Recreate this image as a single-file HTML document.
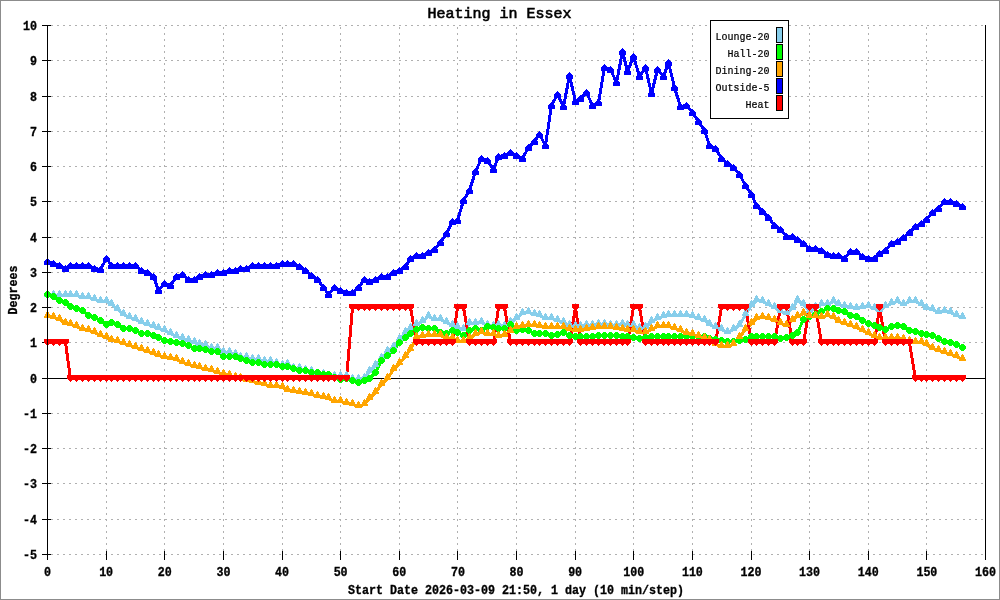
<!DOCTYPE html><html><head><meta charset="utf-8"><style>html,body{margin:0;padding:0;background:#fff;}body{width:1000px;height:600px;overflow:hidden;position:relative;}svg{position:absolute;left:0;top:0;display:block;will-change:transform;}text{font-family:"Liberation Mono",monospace;fill:#000;}.b{font-weight:bold;font-size:11.67px;stroke:#000;stroke-width:0.3px;}.t{font-weight:normal;font-size:15px;stroke:#000;stroke-width:0.6px;}.l{font-size:10px;stroke:#000;stroke-width:0.2px;}</style></head><body>
<svg width="1000" height="600" viewBox="0 0 1000 600">
<rect x="0" y="0" width="1000" height="600" fill="#fff"/>
<path d="M51 554.5H985M51 519.5H985M51 483.5H985M51 448.5H985M51 413.5H985M51 378.5H985M51 342.5H985M51 307.5H985M51 272.5H985M51 237.5H985M51 201.5H985M51 166.5H985M51 131.5H985M51 96.5H985M51 60.5H985M51 25.5H985" stroke="#b0b0b0" stroke-width="1" stroke-dasharray="2 4" fill="none" shape-rendering="crispEdges"/>
<path d="M106.5 554V25M164.5 554V25M223.5 554V25M282.5 554V25M340.5 554V25M399.5 554V25M457.5 554V25M516.5 554V25M575.5 554V25M633.5 554V25M692.5 554V25M751.5 554V25M809.5 554V25M868.5 554V25M926.5 554V25" stroke="#b0b0b0" stroke-width="1" stroke-dasharray="2 4" stroke-dashoffset="3" fill="none" shape-rendering="crispEdges"/>
<path d="M42 554.5H51M42 519.5H51M42 483.5H51M42 448.5H51M42 413.5H51M42 378.5H51M42 342.5H51M42 307.5H51M42 272.5H51M42 237.5H51M42 201.5H51M42 166.5H51M42 131.5H51M42 96.5H51M42 60.5H51M42 25.5H51M47.5 551V560M106.5 551V560M164.5 551V560M223.5 551V560M282.5 551V560M340.5 551V560M399.5 551V560M457.5 551V560M516.5 551V560M575.5 551V560M633.5 551V560M692.5 551V560M751.5 551V560M809.5 551V560M868.5 551V560M926.5 551V560M985.5 551V560" stroke="#000" stroke-width="1" fill="none" shape-rendering="crispEdges"/>
<path d="M47 378.5H985" stroke="#000" stroke-width="1" shape-rendering="crispEdges"/>
<path d="M47.5 295.5 L53.5 295.5 L59.5 295.5 L65.5 295.5 L70.5 295.5 L76.5 295.5 L82.5 297.5 L88.5 297.5 L94.5 299.5 L100.5 301.5 L106.5 301.5 L111.5 304.5 L117.5 309.5 L123.5 314.5 L129.5 317.5 L135.5 319.5 L141.5 322.5 L147.5 324.5 L153.5 326.5 L158.5 328.5 L164.5 330.5 L170.5 333.5 L176.5 336.5 L182.5 338.5 L188.5 340.5 L194.5 342.5 L199.5 344.5 L205.5 345.5 L211.5 348.5 L217.5 348.5 L223.5 352.5 L229.5 352.5 L235.5 354.5 L240.5 357.5 L246.5 357.5 L252.5 359.5 L258.5 359.5 L264.5 361.5 L270.5 361.5 L276.5 363.5 L282.5 365.5 L287.5 364.5 L293.5 368.5 L299.5 368.5 L305.5 370.5 L311.5 371.5 L317.5 374.5 L323.5 374.5 L328.5 377.5 L334.5 376.5 L340.5 376.5 L346.5 376.5 L352.5 379.5 L358.5 379.5 L364.5 378.5 L369.5 371.5 L375.5 365.5 L381.5 358.5 L387.5 351.5 L393.5 347.5 L399.5 339.5 L405.5 332.5 L410.5 328.5 L416.5 324.5 L422.5 321.5 L428.5 316.5 L434.5 319.5 L440.5 319.5 L446.5 322.5 L452.5 325.5 L457.5 327.5 L463.5 329.5 L469.5 323.5 L475.5 323.5 L481.5 322.5 L487.5 325.5 L493.5 326.5 L498.5 325.5 L504.5 326.5 L510.5 322.5 L516.5 318.5 L522.5 313.5 L528.5 312.5 L534.5 314.5 L539.5 315.5 L545.5 318.5 L551.5 318.5 L557.5 320.5 L563.5 322.5 L569.5 325.5 L575.5 326.5 L580.5 326.5 L586.5 325.5 L592.5 325.5 L598.5 324.5 L604.5 324.5 L610.5 325.5 L616.5 325.5 L622.5 324.5 L627.5 325.5 L633.5 325.5 L639.5 328.5 L645.5 327.5 L651.5 321.5 L657.5 318.5 L663.5 316.5 L668.5 315.5 L674.5 315.5 L680.5 315.5 L686.5 315.5 L692.5 316.5 L698.5 318.5 L704.5 320.5 L709.5 324.5 L715.5 327.5 L721.5 329.5 L727.5 332.5 L733.5 329.5 L739.5 325.5 L745.5 314.5 L751.5 305.5 L756.5 300.5 L762.5 301.5 L768.5 304.5 L774.5 307.5 L780.5 311.5 L786.5 313.5 L792.5 308.5 L797.5 300.5 L803.5 304.5 L809.5 311.5 L815.5 307.5 L821.5 304.5 L827.5 304.5 L833.5 301.5 L838.5 304.5 L844.5 306.5 L850.5 307.5 L856.5 308.5 L862.5 307.5 L868.5 306.5 L874.5 308.5 L879.5 310.5 L885.5 306.5 L891.5 303.5 L897.5 301.5 L903.5 304.5 L909.5 301.5 L915.5 301.5 L921.5 304.5 L926.5 308.5 L932.5 309.5 L938.5 312.5 L944.5 311.5 L950.5 312.5 L956.5 315.5 L962.5 317.5" stroke="#87ceeb" stroke-width="3" fill="none" stroke-linejoin="round" shape-rendering="crispEdges"/>
<path d="M47.5 294.5 L53.5 296.5 L59.5 300.5 L65.5 302.5 L70.5 306.5 L76.5 308.5 L82.5 310.5 L88.5 315.5 L94.5 317.5 L100.5 320.5 L106.5 324.5 L111.5 322.5 L117.5 324.5 L123.5 328.5 L129.5 328.5 L135.5 330.5 L141.5 333.5 L147.5 333.5 L153.5 335.5 L158.5 337.5 L164.5 340.5 L170.5 341.5 L176.5 342.5 L182.5 343.5 L188.5 345.5 L194.5 348.5 L199.5 348.5 L205.5 349.5 L211.5 351.5 L217.5 351.5 L223.5 356.5 L229.5 356.5 L235.5 356.5 L240.5 358.5 L246.5 360.5 L252.5 362.5 L258.5 362.5 L264.5 364.5 L270.5 364.5 L276.5 364.5 L282.5 366.5 L287.5 366.5 L293.5 368.5 L299.5 370.5 L305.5 370.5 L311.5 372.5 L317.5 372.5 L323.5 374.5 L328.5 374.5 L334.5 377.5 L340.5 379.5 L346.5 378.5 L352.5 380.5 L358.5 382.5 L364.5 380.5 L369.5 378.5 L375.5 372.5 L381.5 360.5 L387.5 355.5 L393.5 350.5 L399.5 342.5 L405.5 337.5 L410.5 333.5 L416.5 329.5 L422.5 327.5 L428.5 328.5 L434.5 328.5 L440.5 332.5 L446.5 333.5 L452.5 330.5 L457.5 332.5 L463.5 335.5 L469.5 330.5 L475.5 328.5 L481.5 330.5 L487.5 326.5 L493.5 327.5 L498.5 328.5 L504.5 328.5 L510.5 324.5 L516.5 330.5 L522.5 329.5 L528.5 330.5 L534.5 333.5 L539.5 333.5 L545.5 333.5 L551.5 335.5 L557.5 334.5 L563.5 332.5 L569.5 335.5 L575.5 336.5 L580.5 336.5 L586.5 336.5 L592.5 336.5 L598.5 335.5 L604.5 335.5 L610.5 335.5 L616.5 335.5 L622.5 336.5 L627.5 336.5 L633.5 337.5 L639.5 338.5 L645.5 337.5 L651.5 336.5 L657.5 336.5 L663.5 336.5 L668.5 336.5 L674.5 336.5 L680.5 336.5 L686.5 336.5 L692.5 336.5 L698.5 336.5 L704.5 336.5 L709.5 338.5 L715.5 339.5 L721.5 340.5 L727.5 341.5 L733.5 341.5 L739.5 340.5 L745.5 339.5 L751.5 336.5 L756.5 336.5 L762.5 336.5 L768.5 336.5 L774.5 336.5 L780.5 338.5 L786.5 337.5 L792.5 335.5 L797.5 332.5 L803.5 319.5 L809.5 316.5 L815.5 314.5 L821.5 311.5 L827.5 308.5 L833.5 308.5 L838.5 310.5 L844.5 311.5 L850.5 315.5 L856.5 316.5 L862.5 320.5 L868.5 323.5 L874.5 325.5 L879.5 327.5 L885.5 329.5 L891.5 326.5 L897.5 325.5 L903.5 326.5 L909.5 330.5 L915.5 331.5 L921.5 333.5 L926.5 334.5 L932.5 335.5 L938.5 338.5 L944.5 341.5 L950.5 342.5 L956.5 344.5 L962.5 347.5" stroke="#00ff00" stroke-width="3" fill="none" stroke-linejoin="round" shape-rendering="crispEdges"/>
<path d="M47.5 316.5 L53.5 317.5 L59.5 319.5 L65.5 323.5 L70.5 324.5 L76.5 326.5 L82.5 329.5 L88.5 330.5 L94.5 332.5 L100.5 335.5 L106.5 337.5 L111.5 340.5 L117.5 341.5 L123.5 343.5 L129.5 345.5 L135.5 347.5 L141.5 349.5 L147.5 351.5 L153.5 353.5 L158.5 355.5 L164.5 357.5 L170.5 358.5 L176.5 359.5 L182.5 362.5 L188.5 364.5 L194.5 366.5 L199.5 367.5 L205.5 369.5 L211.5 370.5 L217.5 372.5 L223.5 374.5 L229.5 375.5 L235.5 377.5 L240.5 378.5 L246.5 380.5 L252.5 381.5 L258.5 383.5 L264.5 384.5 L270.5 386.5 L276.5 386.5 L282.5 387.5 L287.5 390.5 L293.5 391.5 L299.5 392.5 L305.5 393.5 L311.5 394.5 L317.5 396.5 L323.5 397.5 L328.5 398.5 L334.5 401.5 L340.5 401.5 L346.5 403.5 L352.5 404.5 L358.5 406.5 L364.5 404.5 L369.5 398.5 L375.5 392.5 L381.5 384.5 L387.5 378.5 L393.5 369.5 L399.5 363.5 L405.5 356.5 L410.5 349.5 L416.5 337.5 L422.5 336.5 L428.5 335.5 L434.5 335.5 L440.5 335.5 L446.5 338.5 L452.5 338.5 L457.5 341.5 L463.5 341.5 L469.5 338.5 L475.5 334.5 L481.5 332.5 L487.5 334.5 L493.5 334.5 L498.5 336.5 L504.5 335.5 L510.5 331.5 L516.5 327.5 L522.5 326.5 L528.5 325.5 L534.5 325.5 L539.5 326.5 L545.5 327.5 L551.5 327.5 L557.5 327.5 L563.5 327.5 L569.5 329.5 L575.5 330.5 L580.5 330.5 L586.5 329.5 L592.5 328.5 L598.5 327.5 L604.5 327.5 L610.5 327.5 L616.5 328.5 L622.5 329.5 L627.5 330.5 L633.5 330.5 L639.5 332.5 L645.5 332.5 L651.5 329.5 L657.5 326.5 L663.5 326.5 L668.5 326.5 L674.5 328.5 L680.5 330.5 L686.5 333.5 L692.5 334.5 L698.5 336.5 L704.5 338.5 L709.5 340.5 L715.5 344.5 L721.5 346.5 L727.5 346.5 L733.5 344.5 L739.5 337.5 L745.5 329.5 L751.5 323.5 L756.5 318.5 L762.5 317.5 L768.5 318.5 L774.5 320.5 L780.5 323.5 L786.5 325.5 L792.5 320.5 L797.5 316.5 L803.5 313.5 L809.5 316.5 L815.5 316.5 L821.5 317.5 L827.5 315.5 L833.5 317.5 L838.5 321.5 L844.5 323.5 L850.5 325.5 L856.5 327.5 L862.5 330.5 L868.5 333.5 L874.5 336.5 L879.5 338.5 L885.5 338.5 L891.5 338.5 L897.5 338.5 L903.5 339.5 L909.5 341.5 L915.5 342.5 L921.5 342.5 L926.5 344.5 L932.5 348.5 L938.5 350.5 L944.5 352.5 L950.5 354.5 L956.5 356.5 L962.5 359.5" stroke="#ffa500" stroke-width="3" fill="none" stroke-linejoin="round" shape-rendering="crispEdges"/>
<path d="M47.5 261.5 L53.5 263.5 L59.5 265.5 L65.5 268.5 L70.5 265.5 L76.5 265.5 L82.5 265.5 L88.5 265.5 L94.5 268.5 L100.5 269.5 L106.5 258.5 L111.5 265.5 L117.5 265.5 L123.5 265.5 L129.5 265.5 L135.5 265.5 L141.5 270.5 L147.5 272.5 L153.5 276.5 L158.5 290.5 L164.5 283.5 L170.5 285.5 L176.5 276.5 L182.5 274.5 L188.5 279.5 L194.5 279.5 L199.5 276.5 L205.5 274.5 L211.5 274.5 L217.5 272.5 L223.5 272.5 L229.5 270.5 L235.5 270.5 L240.5 268.5 L246.5 268.5 L252.5 265.5 L258.5 265.5 L264.5 265.5 L270.5 265.5 L276.5 265.5 L282.5 263.5 L287.5 263.5 L293.5 263.5 L299.5 266.5 L305.5 270.5 L311.5 275.5 L317.5 279.5 L323.5 287.5 L328.5 294.5 L334.5 287.5 L340.5 290.5 L346.5 292.5 L352.5 292.5 L358.5 287.5 L364.5 279.5 L369.5 281.5 L375.5 279.5 L381.5 276.5 L387.5 276.5 L393.5 272.5 L399.5 270.5 L405.5 266.5 L410.5 258.5 L416.5 255.5 L422.5 255.5 L428.5 252.5 L434.5 249.5 L440.5 242.5 L446.5 233.5 L452.5 221.5 L457.5 220.5 L463.5 200.5 L469.5 190.5 L475.5 171.5 L481.5 158.5 L487.5 160.5 L493.5 169.5 L498.5 156.5 L504.5 155.5 L510.5 152.5 L516.5 155.5 L522.5 158.5 L528.5 147.5 L534.5 141.5 L539.5 134.5 L545.5 145.5 L551.5 105.5 L557.5 94.5 L563.5 106.5 L569.5 75.5 L575.5 101.5 L580.5 98.5 L586.5 92.5 L592.5 105.5 L598.5 102.5 L604.5 67.5 L610.5 69.5 L616.5 82.5 L622.5 51.5 L627.5 71.5 L633.5 56.5 L639.5 76.5 L645.5 67.5 L651.5 93.5 L657.5 69.5 L663.5 76.5 L668.5 62.5 L674.5 87.5 L680.5 106.5 L686.5 105.5 L692.5 112.5 L698.5 121.5 L704.5 130.5 L709.5 145.5 L715.5 148.5 L721.5 158.5 L727.5 163.5 L733.5 167.5 L739.5 174.5 L745.5 185.5 L751.5 194.5 L756.5 205.5 L762.5 211.5 L768.5 217.5 L774.5 225.5 L780.5 229.5 L786.5 236.5 L792.5 236.5 L797.5 239.5 L803.5 243.5 L809.5 248.5 L815.5 248.5 L821.5 250.5 L827.5 254.5 L833.5 255.5 L838.5 255.5 L844.5 258.5 L850.5 251.5 L856.5 251.5 L862.5 256.5 L868.5 258.5 L874.5 258.5 L879.5 253.5 L885.5 250.5 L891.5 243.5 L897.5 241.5 L903.5 237.5 L909.5 232.5 L915.5 226.5 L921.5 223.5 L926.5 219.5 L932.5 212.5 L938.5 208.5 L944.5 201.5 L950.5 201.5 L956.5 203.5 L962.5 206.5" stroke="#0000ff" stroke-width="3" fill="none" stroke-linejoin="round" shape-rendering="crispEdges"/>
<path d="M47.5 342.5 L53.5 342.5 L59.5 342.5 L65.5 342.5 L70.5 378.5 L76.5 378.5 L82.5 378.5 L88.5 378.5 L94.5 378.5 L100.5 378.5 L106.5 378.5 L111.5 378.5 L117.5 378.5 L123.5 378.5 L129.5 378.5 L135.5 378.5 L141.5 378.5 L147.5 378.5 L153.5 378.5 L158.5 378.5 L164.5 378.5 L170.5 378.5 L176.5 378.5 L182.5 378.5 L188.5 378.5 L194.5 378.5 L199.5 378.5 L205.5 378.5 L211.5 378.5 L217.5 378.5 L223.5 378.5 L229.5 378.5 L235.5 378.5 L240.5 378.5 L246.5 378.5 L252.5 378.5 L258.5 378.5 L264.5 378.5 L270.5 378.5 L276.5 378.5 L282.5 378.5 L287.5 378.5 L293.5 378.5 L299.5 378.5 L305.5 378.5 L311.5 378.5 L317.5 378.5 L323.5 378.5 L328.5 378.5 L334.5 378.5 L340.5 378.5 L346.5 378.5 L352.5 307.5 L358.5 307.5 L364.5 307.5 L369.5 307.5 L375.5 307.5 L381.5 307.5 L387.5 307.5 L393.5 307.5 L399.5 307.5 L405.5 307.5 L410.5 307.5 L416.5 342.5 L422.5 342.5 L428.5 342.5 L434.5 342.5 L440.5 342.5 L446.5 342.5 L452.5 342.5 L457.5 307.5 L463.5 307.5 L469.5 342.5 L475.5 342.5 L481.5 342.5 L487.5 342.5 L493.5 342.5 L498.5 307.5 L504.5 307.5 L510.5 342.5 L516.5 342.5 L522.5 342.5 L528.5 342.5 L534.5 342.5 L539.5 342.5 L545.5 342.5 L551.5 342.5 L557.5 342.5 L563.5 342.5 L569.5 342.5 L575.5 307.5 L580.5 342.5 L586.5 342.5 L592.5 342.5 L598.5 342.5 L604.5 342.5 L610.5 342.5 L616.5 342.5 L622.5 342.5 L627.5 342.5 L633.5 307.5 L639.5 307.5 L645.5 342.5 L651.5 342.5 L657.5 342.5 L663.5 342.5 L668.5 342.5 L674.5 342.5 L680.5 342.5 L686.5 342.5 L692.5 342.5 L698.5 342.5 L704.5 342.5 L709.5 342.5 L715.5 342.5 L721.5 307.5 L727.5 307.5 L733.5 307.5 L739.5 307.5 L745.5 307.5 L751.5 342.5 L756.5 342.5 L762.5 342.5 L768.5 342.5 L774.5 342.5 L780.5 307.5 L786.5 307.5 L792.5 342.5 L797.5 342.5 L803.5 342.5 L809.5 307.5 L815.5 307.5 L821.5 342.5 L827.5 342.5 L833.5 342.5 L838.5 342.5 L844.5 342.5 L850.5 342.5 L856.5 342.5 L862.5 342.5 L868.5 342.5 L874.5 342.5 L879.5 307.5 L885.5 342.5 L891.5 342.5 L897.5 342.5 L903.5 342.5 L909.5 342.5 L915.5 378.5 L921.5 378.5 L926.5 378.5 L932.5 378.5 L938.5 378.5 L944.5 378.5 L950.5 378.5 L956.5 378.5 L962.5 378.5" stroke="#ff0000" stroke-width="3" fill="none" stroke-linejoin="round" shape-rendering="crispEdges"/>
<path d="M47.5 289.5L51 295.5V297H44V295.5ZM53.5 289.5L57 295.5V297H50V295.5ZM59.5 289.5L63 295.5V297H56V295.5ZM65.5 289.5L69 295.5V297H62V295.5ZM70.5 289.5L74 295.5V297H67V295.5ZM76.5 289.5L80 295.5V297H73V295.5ZM82.5 291.5L86 297.5V299H79V297.5ZM88.5 291.5L92 297.5V299H85V297.5ZM94.5 293.5L98 299.5V301H91V299.5ZM100.5 295.5L104 301.5V303H97V301.5ZM106.5 295.5L110 301.5V303H103V301.5ZM111.5 298.5L115 304.5V306H108V304.5ZM117.5 303.5L121 309.5V311H114V309.5ZM123.5 308.5L127 314.5V316H120V314.5ZM129.5 311.5L133 317.5V319H126V317.5ZM135.5 313.5L139 319.5V321H132V319.5ZM141.5 316.5L145 322.5V324H138V322.5ZM147.5 318.5L151 324.5V326H144V324.5ZM153.5 320.5L157 326.5V328H150V326.5ZM158.5 322.5L162 328.5V330H155V328.5ZM164.5 324.5L168 330.5V332H161V330.5ZM170.5 327.5L174 333.5V335H167V333.5ZM176.5 330.5L180 336.5V338H173V336.5ZM182.5 332.5L186 338.5V340H179V338.5ZM188.5 334.5L192 340.5V342H185V340.5ZM194.5 336.5L198 342.5V344H191V342.5ZM199.5 338.5L203 344.5V346H196V344.5ZM205.5 339.5L209 345.5V347H202V345.5ZM211.5 342.5L215 348.5V350H208V348.5ZM217.5 342.5L221 348.5V350H214V348.5ZM223.5 346.5L227 352.5V354H220V352.5ZM229.5 346.5L233 352.5V354H226V352.5ZM235.5 348.5L239 354.5V356H232V354.5ZM240.5 351.5L244 357.5V359H237V357.5ZM246.5 351.5L250 357.5V359H243V357.5ZM252.5 353.5L256 359.5V361H249V359.5ZM258.5 353.5L262 359.5V361H255V359.5ZM264.5 355.5L268 361.5V363H261V361.5ZM270.5 355.5L274 361.5V363H267V361.5ZM276.5 357.5L280 363.5V365H273V363.5ZM282.5 359.5L286 365.5V367H279V365.5ZM287.5 358.5L291 364.5V366H284V364.5ZM293.5 362.5L297 368.5V370H290V368.5ZM299.5 362.5L303 368.5V370H296V368.5ZM305.5 364.5L309 370.5V372H302V370.5ZM311.5 365.5L315 371.5V373H308V371.5ZM317.5 368.5L321 374.5V376H314V374.5ZM323.5 368.5L327 374.5V376H320V374.5ZM328.5 371.5L332 377.5V379H325V377.5ZM334.5 370.5L338 376.5V378H331V376.5ZM340.5 370.5L344 376.5V378H337V376.5ZM346.5 370.5L350 376.5V378H343V376.5ZM352.5 373.5L356 379.5V381H349V379.5ZM358.5 373.5L362 379.5V381H355V379.5ZM364.5 372.5L368 378.5V380H361V378.5ZM369.5 365.5L373 371.5V373H366V371.5ZM375.5 359.5L379 365.5V367H372V365.5ZM381.5 352.5L385 358.5V360H378V358.5ZM387.5 345.5L391 351.5V353H384V351.5ZM393.5 341.5L397 347.5V349H390V347.5ZM399.5 333.5L403 339.5V341H396V339.5ZM405.5 326.5L409 332.5V334H402V332.5ZM410.5 322.5L414 328.5V330H407V328.5ZM416.5 318.5L420 324.5V326H413V324.5ZM422.5 315.5L426 321.5V323H419V321.5ZM428.5 310.5L432 316.5V318H425V316.5ZM434.5 313.5L438 319.5V321H431V319.5ZM440.5 313.5L444 319.5V321H437V319.5ZM446.5 316.5L450 322.5V324H443V322.5ZM452.5 319.5L456 325.5V327H449V325.5ZM457.5 321.5L461 327.5V329H454V327.5ZM463.5 323.5L467 329.5V331H460V329.5ZM469.5 317.5L473 323.5V325H466V323.5ZM475.5 317.5L479 323.5V325H472V323.5ZM481.5 316.5L485 322.5V324H478V322.5ZM487.5 319.5L491 325.5V327H484V325.5ZM493.5 320.5L497 326.5V328H490V326.5ZM498.5 319.5L502 325.5V327H495V325.5ZM504.5 320.5L508 326.5V328H501V326.5ZM510.5 316.5L514 322.5V324H507V322.5ZM516.5 312.5L520 318.5V320H513V318.5ZM522.5 307.5L526 313.5V315H519V313.5ZM528.5 306.5L532 312.5V314H525V312.5ZM534.5 308.5L538 314.5V316H531V314.5ZM539.5 309.5L543 315.5V317H536V315.5ZM545.5 312.5L549 318.5V320H542V318.5ZM551.5 312.5L555 318.5V320H548V318.5ZM557.5 314.5L561 320.5V322H554V320.5ZM563.5 316.5L567 322.5V324H560V322.5ZM569.5 319.5L573 325.5V327H566V325.5ZM575.5 320.5L579 326.5V328H572V326.5ZM580.5 320.5L584 326.5V328H577V326.5ZM586.5 319.5L590 325.5V327H583V325.5ZM592.5 319.5L596 325.5V327H589V325.5ZM598.5 318.5L602 324.5V326H595V324.5ZM604.5 318.5L608 324.5V326H601V324.5ZM610.5 319.5L614 325.5V327H607V325.5ZM616.5 319.5L620 325.5V327H613V325.5ZM622.5 318.5L626 324.5V326H619V324.5ZM627.5 319.5L631 325.5V327H624V325.5ZM633.5 319.5L637 325.5V327H630V325.5ZM639.5 322.5L643 328.5V330H636V328.5ZM645.5 321.5L649 327.5V329H642V327.5ZM651.5 315.5L655 321.5V323H648V321.5ZM657.5 312.5L661 318.5V320H654V318.5ZM663.5 310.5L667 316.5V318H660V316.5ZM668.5 309.5L672 315.5V317H665V315.5ZM674.5 309.5L678 315.5V317H671V315.5ZM680.5 309.5L684 315.5V317H677V315.5ZM686.5 309.5L690 315.5V317H683V315.5ZM692.5 310.5L696 316.5V318H689V316.5ZM698.5 312.5L702 318.5V320H695V318.5ZM704.5 314.5L708 320.5V322H701V320.5ZM709.5 318.5L713 324.5V326H706V324.5ZM715.5 321.5L719 327.5V329H712V327.5ZM721.5 323.5L725 329.5V331H718V329.5ZM727.5 326.5L731 332.5V334H724V332.5ZM733.5 323.5L737 329.5V331H730V329.5ZM739.5 319.5L743 325.5V327H736V325.5ZM745.5 308.5L749 314.5V316H742V314.5ZM751.5 299.5L755 305.5V307H748V305.5ZM756.5 294.5L760 300.5V302H753V300.5ZM762.5 295.5L766 301.5V303H759V301.5ZM768.5 298.5L772 304.5V306H765V304.5ZM774.5 301.5L778 307.5V309H771V307.5ZM780.5 305.5L784 311.5V313H777V311.5ZM786.5 307.5L790 313.5V315H783V313.5ZM792.5 302.5L796 308.5V310H789V308.5ZM797.5 294.5L801 300.5V302H794V300.5ZM803.5 298.5L807 304.5V306H800V304.5ZM809.5 305.5L813 311.5V313H806V311.5ZM815.5 301.5L819 307.5V309H812V307.5ZM821.5 298.5L825 304.5V306H818V304.5ZM827.5 298.5L831 304.5V306H824V304.5ZM833.5 295.5L837 301.5V303H830V301.5ZM838.5 298.5L842 304.5V306H835V304.5ZM844.5 300.5L848 306.5V308H841V306.5ZM850.5 301.5L854 307.5V309H847V307.5ZM856.5 302.5L860 308.5V310H853V308.5ZM862.5 301.5L866 307.5V309H859V307.5ZM868.5 300.5L872 306.5V308H865V306.5ZM874.5 302.5L878 308.5V310H871V308.5ZM879.5 304.5L883 310.5V312H876V310.5ZM885.5 300.5L889 306.5V308H882V306.5ZM891.5 297.5L895 303.5V305H888V303.5ZM897.5 295.5L901 301.5V303H894V301.5ZM903.5 298.5L907 304.5V306H900V304.5ZM909.5 295.5L913 301.5V303H906V301.5ZM915.5 295.5L919 301.5V303H912V301.5ZM921.5 298.5L925 304.5V306H918V304.5ZM926.5 302.5L930 308.5V310H923V308.5ZM932.5 303.5L936 309.5V311H929V309.5ZM938.5 306.5L942 312.5V314H935V312.5ZM944.5 305.5L948 311.5V313H941V311.5ZM950.5 306.5L954 312.5V314H947V312.5ZM956.5 309.5L960 315.5V317H953V315.5ZM962.5 311.5L966 317.5V319H959V317.5Z" fill="#87ceeb" shape-rendering="crispEdges"/>
<path d="M46 291h3v1h1v1h1v3h-1v1h-1v1h-3v-1h-1v-1h-1v-3h1v-1h1zM52 293h3v1h1v1h1v3h-1v1h-1v1h-3v-1h-1v-1h-1v-3h1v-1h1zM58 297h3v1h1v1h1v3h-1v1h-1v1h-3v-1h-1v-1h-1v-3h1v-1h1zM64 299h3v1h1v1h1v3h-1v1h-1v1h-3v-1h-1v-1h-1v-3h1v-1h1zM69 303h3v1h1v1h1v3h-1v1h-1v1h-3v-1h-1v-1h-1v-3h1v-1h1zM75 305h3v1h1v1h1v3h-1v1h-1v1h-3v-1h-1v-1h-1v-3h1v-1h1zM81 307h3v1h1v1h1v3h-1v1h-1v1h-3v-1h-1v-1h-1v-3h1v-1h1zM87 312h3v1h1v1h1v3h-1v1h-1v1h-3v-1h-1v-1h-1v-3h1v-1h1zM93 314h3v1h1v1h1v3h-1v1h-1v1h-3v-1h-1v-1h-1v-3h1v-1h1zM99 317h3v1h1v1h1v3h-1v1h-1v1h-3v-1h-1v-1h-1v-3h1v-1h1zM105 321h3v1h1v1h1v3h-1v1h-1v1h-3v-1h-1v-1h-1v-3h1v-1h1zM110 319h3v1h1v1h1v3h-1v1h-1v1h-3v-1h-1v-1h-1v-3h1v-1h1zM116 321h3v1h1v1h1v3h-1v1h-1v1h-3v-1h-1v-1h-1v-3h1v-1h1zM122 325h3v1h1v1h1v3h-1v1h-1v1h-3v-1h-1v-1h-1v-3h1v-1h1zM128 325h3v1h1v1h1v3h-1v1h-1v1h-3v-1h-1v-1h-1v-3h1v-1h1zM134 327h3v1h1v1h1v3h-1v1h-1v1h-3v-1h-1v-1h-1v-3h1v-1h1zM140 330h3v1h1v1h1v3h-1v1h-1v1h-3v-1h-1v-1h-1v-3h1v-1h1zM146 330h3v1h1v1h1v3h-1v1h-1v1h-3v-1h-1v-1h-1v-3h1v-1h1zM152 332h3v1h1v1h1v3h-1v1h-1v1h-3v-1h-1v-1h-1v-3h1v-1h1zM157 334h3v1h1v1h1v3h-1v1h-1v1h-3v-1h-1v-1h-1v-3h1v-1h1zM163 337h3v1h1v1h1v3h-1v1h-1v1h-3v-1h-1v-1h-1v-3h1v-1h1zM169 338h3v1h1v1h1v3h-1v1h-1v1h-3v-1h-1v-1h-1v-3h1v-1h1zM175 339h3v1h1v1h1v3h-1v1h-1v1h-3v-1h-1v-1h-1v-3h1v-1h1zM181 340h3v1h1v1h1v3h-1v1h-1v1h-3v-1h-1v-1h-1v-3h1v-1h1zM187 342h3v1h1v1h1v3h-1v1h-1v1h-3v-1h-1v-1h-1v-3h1v-1h1zM193 345h3v1h1v1h1v3h-1v1h-1v1h-3v-1h-1v-1h-1v-3h1v-1h1zM198 345h3v1h1v1h1v3h-1v1h-1v1h-3v-1h-1v-1h-1v-3h1v-1h1zM204 346h3v1h1v1h1v3h-1v1h-1v1h-3v-1h-1v-1h-1v-3h1v-1h1zM210 348h3v1h1v1h1v3h-1v1h-1v1h-3v-1h-1v-1h-1v-3h1v-1h1zM216 348h3v1h1v1h1v3h-1v1h-1v1h-3v-1h-1v-1h-1v-3h1v-1h1zM222 353h3v1h1v1h1v3h-1v1h-1v1h-3v-1h-1v-1h-1v-3h1v-1h1zM228 353h3v1h1v1h1v3h-1v1h-1v1h-3v-1h-1v-1h-1v-3h1v-1h1zM234 353h3v1h1v1h1v3h-1v1h-1v1h-3v-1h-1v-1h-1v-3h1v-1h1zM239 355h3v1h1v1h1v3h-1v1h-1v1h-3v-1h-1v-1h-1v-3h1v-1h1zM245 357h3v1h1v1h1v3h-1v1h-1v1h-3v-1h-1v-1h-1v-3h1v-1h1zM251 359h3v1h1v1h1v3h-1v1h-1v1h-3v-1h-1v-1h-1v-3h1v-1h1zM257 359h3v1h1v1h1v3h-1v1h-1v1h-3v-1h-1v-1h-1v-3h1v-1h1zM263 361h3v1h1v1h1v3h-1v1h-1v1h-3v-1h-1v-1h-1v-3h1v-1h1zM269 361h3v1h1v1h1v3h-1v1h-1v1h-3v-1h-1v-1h-1v-3h1v-1h1zM275 361h3v1h1v1h1v3h-1v1h-1v1h-3v-1h-1v-1h-1v-3h1v-1h1zM281 363h3v1h1v1h1v3h-1v1h-1v1h-3v-1h-1v-1h-1v-3h1v-1h1zM286 363h3v1h1v1h1v3h-1v1h-1v1h-3v-1h-1v-1h-1v-3h1v-1h1zM292 365h3v1h1v1h1v3h-1v1h-1v1h-3v-1h-1v-1h-1v-3h1v-1h1zM298 367h3v1h1v1h1v3h-1v1h-1v1h-3v-1h-1v-1h-1v-3h1v-1h1zM304 367h3v1h1v1h1v3h-1v1h-1v1h-3v-1h-1v-1h-1v-3h1v-1h1zM310 369h3v1h1v1h1v3h-1v1h-1v1h-3v-1h-1v-1h-1v-3h1v-1h1zM316 369h3v1h1v1h1v3h-1v1h-1v1h-3v-1h-1v-1h-1v-3h1v-1h1zM322 371h3v1h1v1h1v3h-1v1h-1v1h-3v-1h-1v-1h-1v-3h1v-1h1zM327 371h3v1h1v1h1v3h-1v1h-1v1h-3v-1h-1v-1h-1v-3h1v-1h1zM333 374h3v1h1v1h1v3h-1v1h-1v1h-3v-1h-1v-1h-1v-3h1v-1h1zM339 376h3v1h1v1h1v3h-1v1h-1v1h-3v-1h-1v-1h-1v-3h1v-1h1zM345 375h3v1h1v1h1v3h-1v1h-1v1h-3v-1h-1v-1h-1v-3h1v-1h1zM351 377h3v1h1v1h1v3h-1v1h-1v1h-3v-1h-1v-1h-1v-3h1v-1h1zM357 379h3v1h1v1h1v3h-1v1h-1v1h-3v-1h-1v-1h-1v-3h1v-1h1zM363 377h3v1h1v1h1v3h-1v1h-1v1h-3v-1h-1v-1h-1v-3h1v-1h1zM368 375h3v1h1v1h1v3h-1v1h-1v1h-3v-1h-1v-1h-1v-3h1v-1h1zM374 369h3v1h1v1h1v3h-1v1h-1v1h-3v-1h-1v-1h-1v-3h1v-1h1zM380 357h3v1h1v1h1v3h-1v1h-1v1h-3v-1h-1v-1h-1v-3h1v-1h1zM386 352h3v1h1v1h1v3h-1v1h-1v1h-3v-1h-1v-1h-1v-3h1v-1h1zM392 347h3v1h1v1h1v3h-1v1h-1v1h-3v-1h-1v-1h-1v-3h1v-1h1zM398 339h3v1h1v1h1v3h-1v1h-1v1h-3v-1h-1v-1h-1v-3h1v-1h1zM404 334h3v1h1v1h1v3h-1v1h-1v1h-3v-1h-1v-1h-1v-3h1v-1h1zM409 330h3v1h1v1h1v3h-1v1h-1v1h-3v-1h-1v-1h-1v-3h1v-1h1zM415 326h3v1h1v1h1v3h-1v1h-1v1h-3v-1h-1v-1h-1v-3h1v-1h1zM421 324h3v1h1v1h1v3h-1v1h-1v1h-3v-1h-1v-1h-1v-3h1v-1h1zM427 325h3v1h1v1h1v3h-1v1h-1v1h-3v-1h-1v-1h-1v-3h1v-1h1zM433 325h3v1h1v1h1v3h-1v1h-1v1h-3v-1h-1v-1h-1v-3h1v-1h1zM439 329h3v1h1v1h1v3h-1v1h-1v1h-3v-1h-1v-1h-1v-3h1v-1h1zM445 330h3v1h1v1h1v3h-1v1h-1v1h-3v-1h-1v-1h-1v-3h1v-1h1zM451 327h3v1h1v1h1v3h-1v1h-1v1h-3v-1h-1v-1h-1v-3h1v-1h1zM456 329h3v1h1v1h1v3h-1v1h-1v1h-3v-1h-1v-1h-1v-3h1v-1h1zM462 332h3v1h1v1h1v3h-1v1h-1v1h-3v-1h-1v-1h-1v-3h1v-1h1zM468 327h3v1h1v1h1v3h-1v1h-1v1h-3v-1h-1v-1h-1v-3h1v-1h1zM474 325h3v1h1v1h1v3h-1v1h-1v1h-3v-1h-1v-1h-1v-3h1v-1h1zM480 327h3v1h1v1h1v3h-1v1h-1v1h-3v-1h-1v-1h-1v-3h1v-1h1zM486 323h3v1h1v1h1v3h-1v1h-1v1h-3v-1h-1v-1h-1v-3h1v-1h1zM492 324h3v1h1v1h1v3h-1v1h-1v1h-3v-1h-1v-1h-1v-3h1v-1h1zM497 325h3v1h1v1h1v3h-1v1h-1v1h-3v-1h-1v-1h-1v-3h1v-1h1zM503 325h3v1h1v1h1v3h-1v1h-1v1h-3v-1h-1v-1h-1v-3h1v-1h1zM509 321h3v1h1v1h1v3h-1v1h-1v1h-3v-1h-1v-1h-1v-3h1v-1h1zM515 327h3v1h1v1h1v3h-1v1h-1v1h-3v-1h-1v-1h-1v-3h1v-1h1zM521 326h3v1h1v1h1v3h-1v1h-1v1h-3v-1h-1v-1h-1v-3h1v-1h1zM527 327h3v1h1v1h1v3h-1v1h-1v1h-3v-1h-1v-1h-1v-3h1v-1h1zM533 330h3v1h1v1h1v3h-1v1h-1v1h-3v-1h-1v-1h-1v-3h1v-1h1zM538 330h3v1h1v1h1v3h-1v1h-1v1h-3v-1h-1v-1h-1v-3h1v-1h1zM544 330h3v1h1v1h1v3h-1v1h-1v1h-3v-1h-1v-1h-1v-3h1v-1h1zM550 332h3v1h1v1h1v3h-1v1h-1v1h-3v-1h-1v-1h-1v-3h1v-1h1zM556 331h3v1h1v1h1v3h-1v1h-1v1h-3v-1h-1v-1h-1v-3h1v-1h1zM562 329h3v1h1v1h1v3h-1v1h-1v1h-3v-1h-1v-1h-1v-3h1v-1h1zM568 332h3v1h1v1h1v3h-1v1h-1v1h-3v-1h-1v-1h-1v-3h1v-1h1zM574 333h3v1h1v1h1v3h-1v1h-1v1h-3v-1h-1v-1h-1v-3h1v-1h1zM579 333h3v1h1v1h1v3h-1v1h-1v1h-3v-1h-1v-1h-1v-3h1v-1h1zM585 333h3v1h1v1h1v3h-1v1h-1v1h-3v-1h-1v-1h-1v-3h1v-1h1zM591 333h3v1h1v1h1v3h-1v1h-1v1h-3v-1h-1v-1h-1v-3h1v-1h1zM597 332h3v1h1v1h1v3h-1v1h-1v1h-3v-1h-1v-1h-1v-3h1v-1h1zM603 332h3v1h1v1h1v3h-1v1h-1v1h-3v-1h-1v-1h-1v-3h1v-1h1zM609 332h3v1h1v1h1v3h-1v1h-1v1h-3v-1h-1v-1h-1v-3h1v-1h1zM615 332h3v1h1v1h1v3h-1v1h-1v1h-3v-1h-1v-1h-1v-3h1v-1h1zM621 333h3v1h1v1h1v3h-1v1h-1v1h-3v-1h-1v-1h-1v-3h1v-1h1zM626 333h3v1h1v1h1v3h-1v1h-1v1h-3v-1h-1v-1h-1v-3h1v-1h1zM632 334h3v1h1v1h1v3h-1v1h-1v1h-3v-1h-1v-1h-1v-3h1v-1h1zM638 335h3v1h1v1h1v3h-1v1h-1v1h-3v-1h-1v-1h-1v-3h1v-1h1zM644 334h3v1h1v1h1v3h-1v1h-1v1h-3v-1h-1v-1h-1v-3h1v-1h1zM650 333h3v1h1v1h1v3h-1v1h-1v1h-3v-1h-1v-1h-1v-3h1v-1h1zM656 333h3v1h1v1h1v3h-1v1h-1v1h-3v-1h-1v-1h-1v-3h1v-1h1zM662 333h3v1h1v1h1v3h-1v1h-1v1h-3v-1h-1v-1h-1v-3h1v-1h1zM667 333h3v1h1v1h1v3h-1v1h-1v1h-3v-1h-1v-1h-1v-3h1v-1h1zM673 333h3v1h1v1h1v3h-1v1h-1v1h-3v-1h-1v-1h-1v-3h1v-1h1zM679 333h3v1h1v1h1v3h-1v1h-1v1h-3v-1h-1v-1h-1v-3h1v-1h1zM685 333h3v1h1v1h1v3h-1v1h-1v1h-3v-1h-1v-1h-1v-3h1v-1h1zM691 333h3v1h1v1h1v3h-1v1h-1v1h-3v-1h-1v-1h-1v-3h1v-1h1zM697 333h3v1h1v1h1v3h-1v1h-1v1h-3v-1h-1v-1h-1v-3h1v-1h1zM703 333h3v1h1v1h1v3h-1v1h-1v1h-3v-1h-1v-1h-1v-3h1v-1h1zM708 335h3v1h1v1h1v3h-1v1h-1v1h-3v-1h-1v-1h-1v-3h1v-1h1zM714 336h3v1h1v1h1v3h-1v1h-1v1h-3v-1h-1v-1h-1v-3h1v-1h1zM720 337h3v1h1v1h1v3h-1v1h-1v1h-3v-1h-1v-1h-1v-3h1v-1h1zM726 338h3v1h1v1h1v3h-1v1h-1v1h-3v-1h-1v-1h-1v-3h1v-1h1zM732 338h3v1h1v1h1v3h-1v1h-1v1h-3v-1h-1v-1h-1v-3h1v-1h1zM738 337h3v1h1v1h1v3h-1v1h-1v1h-3v-1h-1v-1h-1v-3h1v-1h1zM744 336h3v1h1v1h1v3h-1v1h-1v1h-3v-1h-1v-1h-1v-3h1v-1h1zM750 333h3v1h1v1h1v3h-1v1h-1v1h-3v-1h-1v-1h-1v-3h1v-1h1zM755 333h3v1h1v1h1v3h-1v1h-1v1h-3v-1h-1v-1h-1v-3h1v-1h1zM761 333h3v1h1v1h1v3h-1v1h-1v1h-3v-1h-1v-1h-1v-3h1v-1h1zM767 333h3v1h1v1h1v3h-1v1h-1v1h-3v-1h-1v-1h-1v-3h1v-1h1zM773 333h3v1h1v1h1v3h-1v1h-1v1h-3v-1h-1v-1h-1v-3h1v-1h1zM779 335h3v1h1v1h1v3h-1v1h-1v1h-3v-1h-1v-1h-1v-3h1v-1h1zM785 334h3v1h1v1h1v3h-1v1h-1v1h-3v-1h-1v-1h-1v-3h1v-1h1zM791 332h3v1h1v1h1v3h-1v1h-1v1h-3v-1h-1v-1h-1v-3h1v-1h1zM796 329h3v1h1v1h1v3h-1v1h-1v1h-3v-1h-1v-1h-1v-3h1v-1h1zM802 316h3v1h1v1h1v3h-1v1h-1v1h-3v-1h-1v-1h-1v-3h1v-1h1zM808 313h3v1h1v1h1v3h-1v1h-1v1h-3v-1h-1v-1h-1v-3h1v-1h1zM814 311h3v1h1v1h1v3h-1v1h-1v1h-3v-1h-1v-1h-1v-3h1v-1h1zM820 308h3v1h1v1h1v3h-1v1h-1v1h-3v-1h-1v-1h-1v-3h1v-1h1zM826 305h3v1h1v1h1v3h-1v1h-1v1h-3v-1h-1v-1h-1v-3h1v-1h1zM832 305h3v1h1v1h1v3h-1v1h-1v1h-3v-1h-1v-1h-1v-3h1v-1h1zM837 307h3v1h1v1h1v3h-1v1h-1v1h-3v-1h-1v-1h-1v-3h1v-1h1zM843 308h3v1h1v1h1v3h-1v1h-1v1h-3v-1h-1v-1h-1v-3h1v-1h1zM849 312h3v1h1v1h1v3h-1v1h-1v1h-3v-1h-1v-1h-1v-3h1v-1h1zM855 313h3v1h1v1h1v3h-1v1h-1v1h-3v-1h-1v-1h-1v-3h1v-1h1zM861 317h3v1h1v1h1v3h-1v1h-1v1h-3v-1h-1v-1h-1v-3h1v-1h1zM867 320h3v1h1v1h1v3h-1v1h-1v1h-3v-1h-1v-1h-1v-3h1v-1h1zM873 322h3v1h1v1h1v3h-1v1h-1v1h-3v-1h-1v-1h-1v-3h1v-1h1zM878 324h3v1h1v1h1v3h-1v1h-1v1h-3v-1h-1v-1h-1v-3h1v-1h1zM884 326h3v1h1v1h1v3h-1v1h-1v1h-3v-1h-1v-1h-1v-3h1v-1h1zM890 323h3v1h1v1h1v3h-1v1h-1v1h-3v-1h-1v-1h-1v-3h1v-1h1zM896 322h3v1h1v1h1v3h-1v1h-1v1h-3v-1h-1v-1h-1v-3h1v-1h1zM902 323h3v1h1v1h1v3h-1v1h-1v1h-3v-1h-1v-1h-1v-3h1v-1h1zM908 327h3v1h1v1h1v3h-1v1h-1v1h-3v-1h-1v-1h-1v-3h1v-1h1zM914 328h3v1h1v1h1v3h-1v1h-1v1h-3v-1h-1v-1h-1v-3h1v-1h1zM920 330h3v1h1v1h1v3h-1v1h-1v1h-3v-1h-1v-1h-1v-3h1v-1h1zM925 331h3v1h1v1h1v3h-1v1h-1v1h-3v-1h-1v-1h-1v-3h1v-1h1zM931 332h3v1h1v1h1v3h-1v1h-1v1h-3v-1h-1v-1h-1v-3h1v-1h1zM937 335h3v1h1v1h1v3h-1v1h-1v1h-3v-1h-1v-1h-1v-3h1v-1h1zM943 338h3v1h1v1h1v3h-1v1h-1v1h-3v-1h-1v-1h-1v-3h1v-1h1zM949 339h3v1h1v1h1v3h-1v1h-1v1h-3v-1h-1v-1h-1v-3h1v-1h1zM955 341h3v1h1v1h1v3h-1v1h-1v1h-3v-1h-1v-1h-1v-3h1v-1h1zM961 344h3v1h1v1h1v3h-1v1h-1v1h-3v-1h-1v-1h-1v-3h1v-1h1z" fill="#00ff00" shape-rendering="crispEdges"/>
<path d="M47.5 310.5L51 316.5V318H44V316.5ZM53.5 311.5L57 317.5V319H50V317.5ZM59.5 313.5L63 319.5V321H56V319.5ZM65.5 317.5L69 323.5V325H62V323.5ZM70.5 318.5L74 324.5V326H67V324.5ZM76.5 320.5L80 326.5V328H73V326.5ZM82.5 323.5L86 329.5V331H79V329.5ZM88.5 324.5L92 330.5V332H85V330.5ZM94.5 326.5L98 332.5V334H91V332.5ZM100.5 329.5L104 335.5V337H97V335.5ZM106.5 331.5L110 337.5V339H103V337.5ZM111.5 334.5L115 340.5V342H108V340.5ZM117.5 335.5L121 341.5V343H114V341.5ZM123.5 337.5L127 343.5V345H120V343.5ZM129.5 339.5L133 345.5V347H126V345.5ZM135.5 341.5L139 347.5V349H132V347.5ZM141.5 343.5L145 349.5V351H138V349.5ZM147.5 345.5L151 351.5V353H144V351.5ZM153.5 347.5L157 353.5V355H150V353.5ZM158.5 349.5L162 355.5V357H155V355.5ZM164.5 351.5L168 357.5V359H161V357.5ZM170.5 352.5L174 358.5V360H167V358.5ZM176.5 353.5L180 359.5V361H173V359.5ZM182.5 356.5L186 362.5V364H179V362.5ZM188.5 358.5L192 364.5V366H185V364.5ZM194.5 360.5L198 366.5V368H191V366.5ZM199.5 361.5L203 367.5V369H196V367.5ZM205.5 363.5L209 369.5V371H202V369.5ZM211.5 364.5L215 370.5V372H208V370.5ZM217.5 366.5L221 372.5V374H214V372.5ZM223.5 368.5L227 374.5V376H220V374.5ZM229.5 369.5L233 375.5V377H226V375.5ZM235.5 371.5L239 377.5V379H232V377.5ZM240.5 372.5L244 378.5V380H237V378.5ZM246.5 374.5L250 380.5V382H243V380.5ZM252.5 375.5L256 381.5V383H249V381.5ZM258.5 377.5L262 383.5V385H255V383.5ZM264.5 378.5L268 384.5V386H261V384.5ZM270.5 380.5L274 386.5V388H267V386.5ZM276.5 380.5L280 386.5V388H273V386.5ZM282.5 381.5L286 387.5V389H279V387.5ZM287.5 384.5L291 390.5V392H284V390.5ZM293.5 385.5L297 391.5V393H290V391.5ZM299.5 386.5L303 392.5V394H296V392.5ZM305.5 387.5L309 393.5V395H302V393.5ZM311.5 388.5L315 394.5V396H308V394.5ZM317.5 390.5L321 396.5V398H314V396.5ZM323.5 391.5L327 397.5V399H320V397.5ZM328.5 392.5L332 398.5V400H325V398.5ZM334.5 395.5L338 401.5V403H331V401.5ZM340.5 395.5L344 401.5V403H337V401.5ZM346.5 397.5L350 403.5V405H343V403.5ZM352.5 398.5L356 404.5V406H349V404.5ZM358.5 400.5L362 406.5V408H355V406.5ZM364.5 398.5L368 404.5V406H361V404.5ZM369.5 392.5L373 398.5V400H366V398.5ZM375.5 386.5L379 392.5V394H372V392.5ZM381.5 378.5L385 384.5V386H378V384.5ZM387.5 372.5L391 378.5V380H384V378.5ZM393.5 363.5L397 369.5V371H390V369.5ZM399.5 357.5L403 363.5V365H396V363.5ZM405.5 350.5L409 356.5V358H402V356.5ZM410.5 343.5L414 349.5V351H407V349.5ZM416.5 331.5L420 337.5V339H413V337.5ZM422.5 330.5L426 336.5V338H419V336.5ZM428.5 329.5L432 335.5V337H425V335.5ZM434.5 329.5L438 335.5V337H431V335.5ZM440.5 329.5L444 335.5V337H437V335.5ZM446.5 332.5L450 338.5V340H443V338.5ZM452.5 332.5L456 338.5V340H449V338.5ZM457.5 335.5L461 341.5V343H454V341.5ZM463.5 335.5L467 341.5V343H460V341.5ZM469.5 332.5L473 338.5V340H466V338.5ZM475.5 328.5L479 334.5V336H472V334.5ZM481.5 326.5L485 332.5V334H478V332.5ZM487.5 328.5L491 334.5V336H484V334.5ZM493.5 328.5L497 334.5V336H490V334.5ZM498.5 330.5L502 336.5V338H495V336.5ZM504.5 329.5L508 335.5V337H501V335.5ZM510.5 325.5L514 331.5V333H507V331.5ZM516.5 321.5L520 327.5V329H513V327.5ZM522.5 320.5L526 326.5V328H519V326.5ZM528.5 319.5L532 325.5V327H525V325.5ZM534.5 319.5L538 325.5V327H531V325.5ZM539.5 320.5L543 326.5V328H536V326.5ZM545.5 321.5L549 327.5V329H542V327.5ZM551.5 321.5L555 327.5V329H548V327.5ZM557.5 321.5L561 327.5V329H554V327.5ZM563.5 321.5L567 327.5V329H560V327.5ZM569.5 323.5L573 329.5V331H566V329.5ZM575.5 324.5L579 330.5V332H572V330.5ZM580.5 324.5L584 330.5V332H577V330.5ZM586.5 323.5L590 329.5V331H583V329.5ZM592.5 322.5L596 328.5V330H589V328.5ZM598.5 321.5L602 327.5V329H595V327.5ZM604.5 321.5L608 327.5V329H601V327.5ZM610.5 321.5L614 327.5V329H607V327.5ZM616.5 322.5L620 328.5V330H613V328.5ZM622.5 323.5L626 329.5V331H619V329.5ZM627.5 324.5L631 330.5V332H624V330.5ZM633.5 324.5L637 330.5V332H630V330.5ZM639.5 326.5L643 332.5V334H636V332.5ZM645.5 326.5L649 332.5V334H642V332.5ZM651.5 323.5L655 329.5V331H648V329.5ZM657.5 320.5L661 326.5V328H654V326.5ZM663.5 320.5L667 326.5V328H660V326.5ZM668.5 320.5L672 326.5V328H665V326.5ZM674.5 322.5L678 328.5V330H671V328.5ZM680.5 324.5L684 330.5V332H677V330.5ZM686.5 327.5L690 333.5V335H683V333.5ZM692.5 328.5L696 334.5V336H689V334.5ZM698.5 330.5L702 336.5V338H695V336.5ZM704.5 332.5L708 338.5V340H701V338.5ZM709.5 334.5L713 340.5V342H706V340.5ZM715.5 338.5L719 344.5V346H712V344.5ZM721.5 340.5L725 346.5V348H718V346.5ZM727.5 340.5L731 346.5V348H724V346.5ZM733.5 338.5L737 344.5V346H730V344.5ZM739.5 331.5L743 337.5V339H736V337.5ZM745.5 323.5L749 329.5V331H742V329.5ZM751.5 317.5L755 323.5V325H748V323.5ZM756.5 312.5L760 318.5V320H753V318.5ZM762.5 311.5L766 317.5V319H759V317.5ZM768.5 312.5L772 318.5V320H765V318.5ZM774.5 314.5L778 320.5V322H771V320.5ZM780.5 317.5L784 323.5V325H777V323.5ZM786.5 319.5L790 325.5V327H783V325.5ZM792.5 314.5L796 320.5V322H789V320.5ZM797.5 310.5L801 316.5V318H794V316.5ZM803.5 307.5L807 313.5V315H800V313.5ZM809.5 310.5L813 316.5V318H806V316.5ZM815.5 310.5L819 316.5V318H812V316.5ZM821.5 311.5L825 317.5V319H818V317.5ZM827.5 309.5L831 315.5V317H824V315.5ZM833.5 311.5L837 317.5V319H830V317.5ZM838.5 315.5L842 321.5V323H835V321.5ZM844.5 317.5L848 323.5V325H841V323.5ZM850.5 319.5L854 325.5V327H847V325.5ZM856.5 321.5L860 327.5V329H853V327.5ZM862.5 324.5L866 330.5V332H859V330.5ZM868.5 327.5L872 333.5V335H865V333.5ZM874.5 330.5L878 336.5V338H871V336.5ZM879.5 332.5L883 338.5V340H876V338.5ZM885.5 332.5L889 338.5V340H882V338.5ZM891.5 332.5L895 338.5V340H888V338.5ZM897.5 332.5L901 338.5V340H894V338.5ZM903.5 333.5L907 339.5V341H900V339.5ZM909.5 335.5L913 341.5V343H906V341.5ZM915.5 336.5L919 342.5V344H912V342.5ZM921.5 336.5L925 342.5V344H918V342.5ZM926.5 338.5L930 344.5V346H923V344.5ZM932.5 342.5L936 348.5V350H929V348.5ZM938.5 344.5L942 350.5V352H935V350.5ZM944.5 346.5L948 352.5V354H941V352.5ZM950.5 348.5L954 354.5V356H947V354.5ZM956.5 350.5L960 356.5V358H953V356.5ZM962.5 353.5L966 359.5V361H959V359.5Z" fill="#ffa500" shape-rendering="crispEdges"/>
<path d="M47.5 258L51 261V265H44V261ZM53.5 260L57 263V267H50V263ZM59.5 262L63 265V269H56V265ZM65.5 265L69 268V272H62V268ZM70.5 262L74 265V269H67V265ZM76.5 262L80 265V269H73V265ZM82.5 262L86 265V269H79V265ZM88.5 262L92 265V269H85V265ZM94.5 265L98 268V272H91V268ZM100.5 266L104 269V273H97V269ZM106.5 255L110 258V262H103V258ZM111.5 262L115 265V269H108V265ZM117.5 262L121 265V269H114V265ZM123.5 262L127 265V269H120V265ZM129.5 262L133 265V269H126V265ZM135.5 262L139 265V269H132V265ZM141.5 267L145 270V274H138V270ZM147.5 269L151 272V276H144V272ZM153.5 273L157 276V280H150V276ZM158.5 287L162 290V294H155V290ZM164.5 280L168 283V287H161V283ZM170.5 282L174 285V289H167V285ZM176.5 273L180 276V280H173V276ZM182.5 271L186 274V278H179V274ZM188.5 276L192 279V283H185V279ZM194.5 276L198 279V283H191V279ZM199.5 273L203 276V280H196V276ZM205.5 271L209 274V278H202V274ZM211.5 271L215 274V278H208V274ZM217.5 269L221 272V276H214V272ZM223.5 269L227 272V276H220V272ZM229.5 267L233 270V274H226V270ZM235.5 267L239 270V274H232V270ZM240.5 265L244 268V272H237V268ZM246.5 265L250 268V272H243V268ZM252.5 262L256 265V269H249V265ZM258.5 262L262 265V269H255V265ZM264.5 262L268 265V269H261V265ZM270.5 262L274 265V269H267V265ZM276.5 262L280 265V269H273V265ZM282.5 260L286 263V267H279V263ZM287.5 260L291 263V267H284V263ZM293.5 260L297 263V267H290V263ZM299.5 263L303 266V270H296V266ZM305.5 267L309 270V274H302V270ZM311.5 272L315 275V279H308V275ZM317.5 276L321 279V283H314V279ZM323.5 284L327 287V291H320V287ZM328.5 291L332 294V298H325V294ZM334.5 284L338 287V291H331V287ZM340.5 287L344 290V294H337V290ZM346.5 289L350 292V296H343V292ZM352.5 289L356 292V296H349V292ZM358.5 284L362 287V291H355V287ZM364.5 276L368 279V283H361V279ZM369.5 278L373 281V285H366V281ZM375.5 276L379 279V283H372V279ZM381.5 273L385 276V280H378V276ZM387.5 273L391 276V280H384V276ZM393.5 269L397 272V276H390V272ZM399.5 267L403 270V274H396V270ZM405.5 263L409 266V270H402V266ZM410.5 255L414 258V262H407V258ZM416.5 252L420 255V259H413V255ZM422.5 252L426 255V259H419V255ZM428.5 249L432 252V256H425V252ZM434.5 246L438 249V253H431V249ZM440.5 239L444 242V246H437V242ZM446.5 230L450 233V237H443V233ZM452.5 218L456 221V225H449V221ZM457.5 217L461 220V224H454V220ZM463.5 197L467 200V204H460V200ZM469.5 187L473 190V194H466V190ZM475.5 168L479 171V175H472V171ZM481.5 155L485 158V162H478V158ZM487.5 157L491 160V164H484V160ZM493.5 166L497 169V173H490V169ZM498.5 153L502 156V160H495V156ZM504.5 152L508 155V159H501V155ZM510.5 149L514 152V156H507V152ZM516.5 152L520 155V159H513V155ZM522.5 155L526 158V162H519V158ZM528.5 144L532 147V151H525V147ZM534.5 138L538 141V145H531V141ZM539.5 131L543 134V138H536V134ZM545.5 142L549 145V149H542V145ZM551.5 102L555 105V109H548V105ZM557.5 91L561 94V98H554V94ZM563.5 103L567 106V110H560V106ZM569.5 72L573 75V79H566V75ZM575.5 98L579 101V105H572V101ZM580.5 95L584 98V102H577V98ZM586.5 89L590 92V96H583V92ZM592.5 102L596 105V109H589V105ZM598.5 99L602 102V106H595V102ZM604.5 64L608 67V71H601V67ZM610.5 66L614 69V73H607V69ZM616.5 79L620 82V86H613V82ZM622.5 48L626 51V55H619V51ZM627.5 68L631 71V75H624V71ZM633.5 53L637 56V60H630V56ZM639.5 73L643 76V80H636V76ZM645.5 64L649 67V71H642V67ZM651.5 90L655 93V97H648V93ZM657.5 66L661 69V73H654V69ZM663.5 73L667 76V80H660V76ZM668.5 59L672 62V66H665V62ZM674.5 84L678 87V91H671V87ZM680.5 103L684 106V110H677V106ZM686.5 102L690 105V109H683V105ZM692.5 109L696 112V116H689V112ZM698.5 118L702 121V125H695V121ZM704.5 127L708 130V134H701V130ZM709.5 142L713 145V149H706V145ZM715.5 145L719 148V152H712V148ZM721.5 155L725 158V162H718V158ZM727.5 160L731 163V167H724V163ZM733.5 164L737 167V171H730V167ZM739.5 171L743 174V178H736V174ZM745.5 182L749 185V189H742V185ZM751.5 191L755 194V198H748V194ZM756.5 202L760 205V209H753V205ZM762.5 208L766 211V215H759V211ZM768.5 214L772 217V221H765V217ZM774.5 222L778 225V229H771V225ZM780.5 226L784 229V233H777V229ZM786.5 233L790 236V240H783V236ZM792.5 233L796 236V240H789V236ZM797.5 236L801 239V243H794V239ZM803.5 240L807 243V247H800V243ZM809.5 245L813 248V252H806V248ZM815.5 245L819 248V252H812V248ZM821.5 247L825 250V254H818V250ZM827.5 251L831 254V258H824V254ZM833.5 252L837 255V259H830V255ZM838.5 252L842 255V259H835V255ZM844.5 255L848 258V262H841V258ZM850.5 248L854 251V255H847V251ZM856.5 248L860 251V255H853V251ZM862.5 253L866 256V260H859V256ZM868.5 255L872 258V262H865V258ZM874.5 255L878 258V262H871V258ZM879.5 250L883 253V257H876V253ZM885.5 247L889 250V254H882V250ZM891.5 240L895 243V247H888V243ZM897.5 238L901 241V245H894V241ZM903.5 234L907 237V241H900V237ZM909.5 229L913 232V236H906V232ZM915.5 223L919 226V230H912V226ZM921.5 220L925 223V227H918V223ZM926.5 216L930 219V223H923V219ZM932.5 209L936 212V216H929V212ZM938.5 205L942 208V212H935V208ZM944.5 198L948 201V205H941V201ZM950.5 198L954 201V205H947V201ZM956.5 200L960 203V207H953V203ZM962.5 203L966 206V210H959V206Z" fill="#0000ff" shape-rendering="crispEdges"/>
<path d="M44 339H51V343L47.5 346L44 343ZM50 339H57V343L53.5 346L50 343ZM56 339H63V343L59.5 346L56 343ZM62 339H69V343L65.5 346L62 343ZM67 375H74V379L70.5 382L67 379ZM73 375H80V379L76.5 382L73 379ZM79 375H86V379L82.5 382L79 379ZM85 375H92V379L88.5 382L85 379ZM91 375H98V379L94.5 382L91 379ZM97 375H104V379L100.5 382L97 379ZM103 375H110V379L106.5 382L103 379ZM108 375H115V379L111.5 382L108 379ZM114 375H121V379L117.5 382L114 379ZM120 375H127V379L123.5 382L120 379ZM126 375H133V379L129.5 382L126 379ZM132 375H139V379L135.5 382L132 379ZM138 375H145V379L141.5 382L138 379ZM144 375H151V379L147.5 382L144 379ZM150 375H157V379L153.5 382L150 379ZM155 375H162V379L158.5 382L155 379ZM161 375H168V379L164.5 382L161 379ZM167 375H174V379L170.5 382L167 379ZM173 375H180V379L176.5 382L173 379ZM179 375H186V379L182.5 382L179 379ZM185 375H192V379L188.5 382L185 379ZM191 375H198V379L194.5 382L191 379ZM196 375H203V379L199.5 382L196 379ZM202 375H209V379L205.5 382L202 379ZM208 375H215V379L211.5 382L208 379ZM214 375H221V379L217.5 382L214 379ZM220 375H227V379L223.5 382L220 379ZM226 375H233V379L229.5 382L226 379ZM232 375H239V379L235.5 382L232 379ZM237 375H244V379L240.5 382L237 379ZM243 375H250V379L246.5 382L243 379ZM249 375H256V379L252.5 382L249 379ZM255 375H262V379L258.5 382L255 379ZM261 375H268V379L264.5 382L261 379ZM267 375H274V379L270.5 382L267 379ZM273 375H280V379L276.5 382L273 379ZM279 375H286V379L282.5 382L279 379ZM284 375H291V379L287.5 382L284 379ZM290 375H297V379L293.5 382L290 379ZM296 375H303V379L299.5 382L296 379ZM302 375H309V379L305.5 382L302 379ZM308 375H315V379L311.5 382L308 379ZM314 375H321V379L317.5 382L314 379ZM320 375H327V379L323.5 382L320 379ZM325 375H332V379L328.5 382L325 379ZM331 375H338V379L334.5 382L331 379ZM337 375H344V379L340.5 382L337 379ZM343 375H350V379L346.5 382L343 379ZM349 304H356V308L352.5 311L349 308ZM355 304H362V308L358.5 311L355 308ZM361 304H368V308L364.5 311L361 308ZM366 304H373V308L369.5 311L366 308ZM372 304H379V308L375.5 311L372 308ZM378 304H385V308L381.5 311L378 308ZM384 304H391V308L387.5 311L384 308ZM390 304H397V308L393.5 311L390 308ZM396 304H403V308L399.5 311L396 308ZM402 304H409V308L405.5 311L402 308ZM407 304H414V308L410.5 311L407 308ZM413 339H420V343L416.5 346L413 343ZM419 339H426V343L422.5 346L419 343ZM425 339H432V343L428.5 346L425 343ZM431 339H438V343L434.5 346L431 343ZM437 339H444V343L440.5 346L437 343ZM443 339H450V343L446.5 346L443 343ZM449 339H456V343L452.5 346L449 343ZM454 304H461V308L457.5 311L454 308ZM460 304H467V308L463.5 311L460 308ZM466 339H473V343L469.5 346L466 343ZM472 339H479V343L475.5 346L472 343ZM478 339H485V343L481.5 346L478 343ZM484 339H491V343L487.5 346L484 343ZM490 339H497V343L493.5 346L490 343ZM495 304H502V308L498.5 311L495 308ZM501 304H508V308L504.5 311L501 308ZM507 339H514V343L510.5 346L507 343ZM513 339H520V343L516.5 346L513 343ZM519 339H526V343L522.5 346L519 343ZM525 339H532V343L528.5 346L525 343ZM531 339H538V343L534.5 346L531 343ZM536 339H543V343L539.5 346L536 343ZM542 339H549V343L545.5 346L542 343ZM548 339H555V343L551.5 346L548 343ZM554 339H561V343L557.5 346L554 343ZM560 339H567V343L563.5 346L560 343ZM566 339H573V343L569.5 346L566 343ZM572 304H579V308L575.5 311L572 308ZM577 339H584V343L580.5 346L577 343ZM583 339H590V343L586.5 346L583 343ZM589 339H596V343L592.5 346L589 343ZM595 339H602V343L598.5 346L595 343ZM601 339H608V343L604.5 346L601 343ZM607 339H614V343L610.5 346L607 343ZM613 339H620V343L616.5 346L613 343ZM619 339H626V343L622.5 346L619 343ZM624 339H631V343L627.5 346L624 343ZM630 304H637V308L633.5 311L630 308ZM636 304H643V308L639.5 311L636 308ZM642 339H649V343L645.5 346L642 343ZM648 339H655V343L651.5 346L648 343ZM654 339H661V343L657.5 346L654 343ZM660 339H667V343L663.5 346L660 343ZM665 339H672V343L668.5 346L665 343ZM671 339H678V343L674.5 346L671 343ZM677 339H684V343L680.5 346L677 343ZM683 339H690V343L686.5 346L683 343ZM689 339H696V343L692.5 346L689 343ZM695 339H702V343L698.5 346L695 343ZM701 339H708V343L704.5 346L701 343ZM706 339H713V343L709.5 346L706 343ZM712 339H719V343L715.5 346L712 343ZM718 304H725V308L721.5 311L718 308ZM724 304H731V308L727.5 311L724 308ZM730 304H737V308L733.5 311L730 308ZM736 304H743V308L739.5 311L736 308ZM742 304H749V308L745.5 311L742 308ZM748 339H755V343L751.5 346L748 343ZM753 339H760V343L756.5 346L753 343ZM759 339H766V343L762.5 346L759 343ZM765 339H772V343L768.5 346L765 343ZM771 339H778V343L774.5 346L771 343ZM777 304H784V308L780.5 311L777 308ZM783 304H790V308L786.5 311L783 308ZM789 339H796V343L792.5 346L789 343ZM794 339H801V343L797.5 346L794 343ZM800 339H807V343L803.5 346L800 343ZM806 304H813V308L809.5 311L806 308ZM812 304H819V308L815.5 311L812 308ZM818 339H825V343L821.5 346L818 343ZM824 339H831V343L827.5 346L824 343ZM830 339H837V343L833.5 346L830 343ZM835 339H842V343L838.5 346L835 343ZM841 339H848V343L844.5 346L841 343ZM847 339H854V343L850.5 346L847 343ZM853 339H860V343L856.5 346L853 343ZM859 339H866V343L862.5 346L859 343ZM865 339H872V343L868.5 346L865 343ZM871 339H878V343L874.5 346L871 343ZM876 304H883V308L879.5 311L876 308ZM882 339H889V343L885.5 346L882 343ZM888 339H895V343L891.5 346L888 343ZM894 339H901V343L897.5 346L894 343ZM900 339H907V343L903.5 346L900 343ZM906 339H913V343L909.5 346L906 343ZM912 375H919V379L915.5 382L912 379ZM918 375H925V379L921.5 382L918 379ZM923 375H930V379L926.5 382L923 379ZM929 375H936V379L932.5 382L929 379ZM935 375H942V379L938.5 382L935 379ZM941 375H948V379L944.5 382L941 379ZM947 375H954V379L950.5 382L947 379ZM953 375H960V379L956.5 382L953 379ZM959 375H966V379L962.5 382L959 379Z" fill="#ff0000" shape-rendering="crispEdges"/>
<path d="M47.5 25V554M985.5 25V554" stroke="#000" stroke-width="1" fill="none" shape-rendering="crispEdges"/>
<text class="b" transform="translate(37.00 559.00) scale(1 1.05)" text-anchor="end">-5</text>
<text class="b" transform="translate(37.00 524.00) scale(1 1.05)" text-anchor="end">-4</text>
<text class="b" transform="translate(37.00 488.00) scale(1 1.05)" text-anchor="end">-3</text>
<text class="b" transform="translate(37.00 453.00) scale(1 1.05)" text-anchor="end">-2</text>
<text class="b" transform="translate(37.00 418.00) scale(1 1.05)" text-anchor="end">-1</text>
<text class="b" transform="translate(37.00 383.00) scale(1 1.05)" text-anchor="end">0</text>
<text class="b" transform="translate(37.00 347.00) scale(1 1.05)" text-anchor="end">1</text>
<text class="b" transform="translate(37.00 312.00) scale(1 1.05)" text-anchor="end">2</text>
<text class="b" transform="translate(37.00 277.00) scale(1 1.05)" text-anchor="end">3</text>
<text class="b" transform="translate(37.00 242.00) scale(1 1.05)" text-anchor="end">4</text>
<text class="b" transform="translate(37.00 206.00) scale(1 1.05)" text-anchor="end">5</text>
<text class="b" transform="translate(37.00 171.00) scale(1 1.05)" text-anchor="end">6</text>
<text class="b" transform="translate(37.00 136.00) scale(1 1.05)" text-anchor="end">7</text>
<text class="b" transform="translate(37.00 101.00) scale(1 1.05)" text-anchor="end">8</text>
<text class="b" transform="translate(37.00 65.00) scale(1 1.05)" text-anchor="end">9</text>
<text class="b" transform="translate(37.00 30.00) scale(1 1.05)" text-anchor="end">10</text>
<text class="b" transform="translate(47.50 575.50) scale(1 1.05)" text-anchor="middle">0</text>
<text class="b" transform="translate(106.12 575.50) scale(1 1.05)" text-anchor="middle">10</text>
<text class="b" transform="translate(164.75 575.50) scale(1 1.05)" text-anchor="middle">20</text>
<text class="b" transform="translate(223.38 575.50) scale(1 1.05)" text-anchor="middle">30</text>
<text class="b" transform="translate(282.00 575.50) scale(1 1.05)" text-anchor="middle">40</text>
<text class="b" transform="translate(340.62 575.50) scale(1 1.05)" text-anchor="middle">50</text>
<text class="b" transform="translate(399.25 575.50) scale(1 1.05)" text-anchor="middle">60</text>
<text class="b" transform="translate(457.88 575.50) scale(1 1.05)" text-anchor="middle">70</text>
<text class="b" transform="translate(516.50 575.50) scale(1 1.05)" text-anchor="middle">80</text>
<text class="b" transform="translate(575.12 575.50) scale(1 1.05)" text-anchor="middle">90</text>
<text class="b" transform="translate(633.75 575.50) scale(1 1.05)" text-anchor="middle">100</text>
<text class="b" transform="translate(692.38 575.50) scale(1 1.05)" text-anchor="middle">110</text>
<text class="b" transform="translate(751.00 575.50) scale(1 1.05)" text-anchor="middle">120</text>
<text class="b" transform="translate(809.62 575.50) scale(1 1.05)" text-anchor="middle">130</text>
<text class="b" transform="translate(868.25 575.50) scale(1 1.05)" text-anchor="middle">140</text>
<text class="b" transform="translate(926.88 575.50) scale(1 1.05)" text-anchor="middle">150</text>
<text class="b" transform="translate(985.50 575.50) scale(1 1.05)" text-anchor="middle">160</text>
<text class="t" transform="translate(499.50 18.00) scale(1 1.0)" text-anchor="middle">Heating in Essex</text>
<text class="b" transform="translate(516.00 593.50) scale(1 1.05)" text-anchor="middle">Start Date 2026-03-09 21:50, 1 day (10 min/step)</text>
<text class="b" transform="translate(16.5 290) rotate(-90) scale(1 1.05)" text-anchor="middle">Degrees</text>
<rect x="710.5" y="20.5" width="78" height="98" fill="#fff" stroke="#000" stroke-width="1" shape-rendering="crispEdges"/>
<text class="l" transform="translate(769.5 40) scale(1 1.12)" text-anchor="end">Lounge-20</text>
<rect x="776.5" y="27.5" width="6" height="15" fill="#87ceeb" stroke="#000" stroke-width="1" shape-rendering="crispEdges"/>
<text class="l" transform="translate(769.5 57) scale(1 1.12)" text-anchor="end">Hall-20</text>
<rect x="776.5" y="44.5" width="6" height="15" fill="#00ff00" stroke="#000" stroke-width="1" shape-rendering="crispEdges"/>
<text class="l" transform="translate(769.5 74) scale(1 1.12)" text-anchor="end">Dining-20</text>
<rect x="776.5" y="61.5" width="6" height="15" fill="#ffa500" stroke="#000" stroke-width="1" shape-rendering="crispEdges"/>
<text class="l" transform="translate(769.5 91) scale(1 1.12)" text-anchor="end">Outside-5</text>
<rect x="776.5" y="78.5" width="6" height="15" fill="#0000ff" stroke="#000" stroke-width="1" shape-rendering="crispEdges"/>
<text class="l" transform="translate(769.5 108) scale(1 1.12)" text-anchor="end">Heat</text>
<rect x="776.5" y="95.5" width="6" height="15" fill="#ff0000" stroke="#000" stroke-width="1" shape-rendering="crispEdges"/>
<rect x="0.5" y="0.5" width="999" height="599" fill="none" stroke="#8c8c8c" stroke-width="1" shape-rendering="crispEdges"/>
</svg></body></html>
